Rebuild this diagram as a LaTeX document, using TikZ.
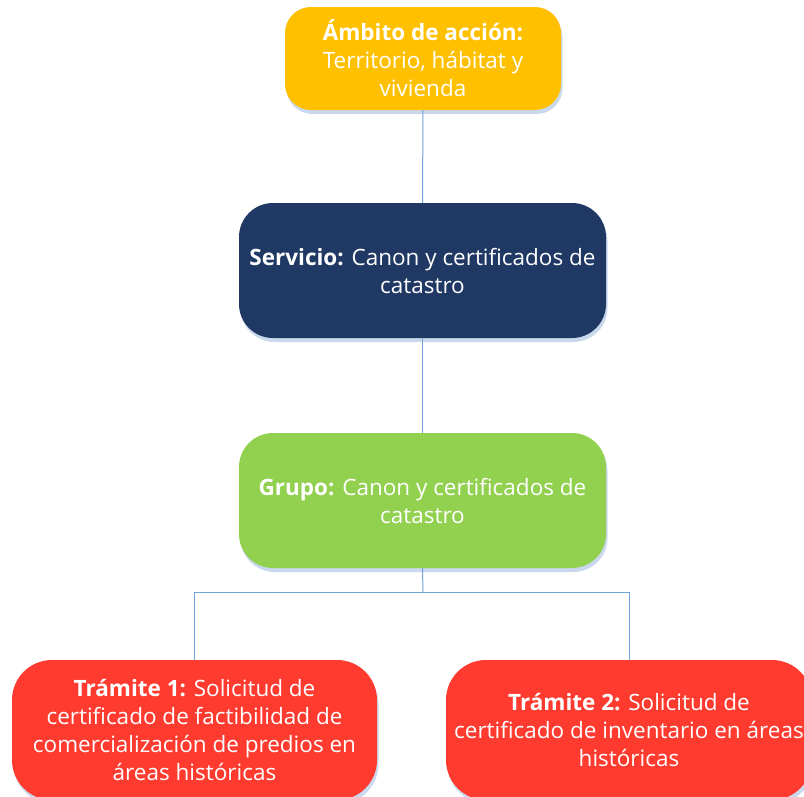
\documentclass[tikz,border=0pt]{standalone}
\usepackage{fontspec}
\setmainfont{Open Sans}
\usetikzlibrary{shadows}
\definecolor{cgold}{HTML}{FFC000}
\definecolor{cnavy}{HTML}{203864}
\definecolor{cgreen}{HTML}{92D050}
\definecolor{cred}{HTML}{FF3B30}
\definecolor{cline}{HTML}{6FA3DA}
\definecolor{cshadow}{HTML}{C9D8EC}
\tikzset{
  box/.style={rounded corners=#1, text=white, align=center, inner sep=0pt,
    font=\fontsize{22.5}{28}\selectfont,
    drop shadow={shadow xshift=1.5pt, shadow yshift=-4pt, fill=cshadow, opacity=1}},
  conn/.style={draw=cline, line width=1pt}
}
\begin{document}
\begin{tikzpicture}[x=1pt,y=-1pt]
\useasboundingbox (0,0) rectangle (804,796);
\clip (0,0) rectangle (804,796);
\node[box=26pt, fill=cgold, minimum width=276pt, minimum height=103pt] (amb) at (423,58.5)
  {\textbf{Ámbito de acción:}\\Territorio, hábitat y\\vivienda};
\node[box=34pt, fill=cnavy, minimum width=367pt, minimum height=135pt] (serv) at (422.5,270.5)
  {\textbf{Servicio:} Canon y certificados de\\catastro};
\node[box=34pt, fill=cgreen, minimum width=367pt, minimum height=135pt] (grupo) at (422.5,500.5)
  {\textbf{Grupo:} Canon y certificados de\\catastro};
\node[box=40pt, fill=cred, minimum width=365pt, minimum height=140pt] (t1) at (194.5,730)
  {\textbf{Trámite 1:} Solicitud de\\certificado de factibilidad de\\comercialización de predios en\\áreas históricas};
\node[box=40pt, fill=cred, minimum width=366pt, minimum height=140pt] (t2) at (629,730)
  {\textbf{Trámite 2:} Solicitud de\\certificado de inventario en áreas\\históricas};
\coordinate (br) at (423,592);
\draw[conn] (amb.south) -- (serv.north);
\draw[conn] (serv.south) -- (grupo.north);
\draw[conn] (grupo.south) -- (br);
\draw[conn] (br) -| (t1.north);
\draw[conn] (br) -| (t2.north);
\end{tikzpicture}
\end{document}
